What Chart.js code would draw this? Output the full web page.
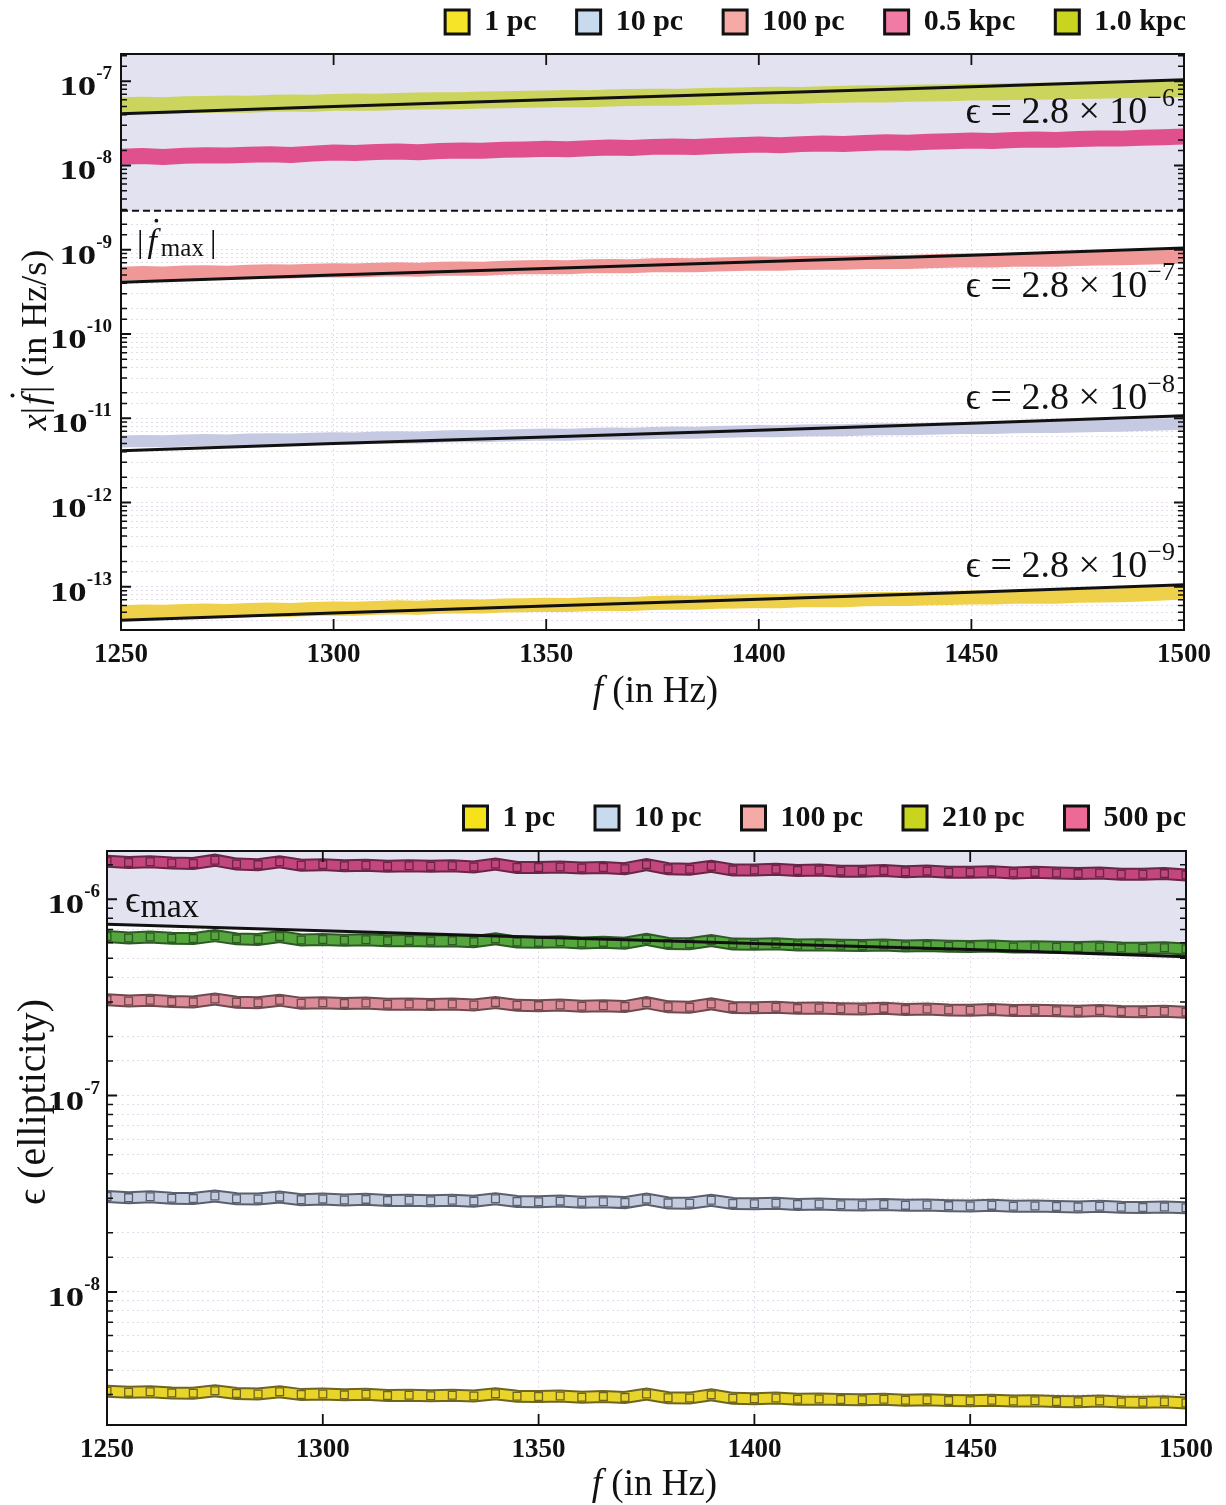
<!DOCTYPE html>
<html><head><meta charset="utf-8">
<script src="https://cdn.jsdelivr.net/npm/chart.js@4.4.0/dist/chart.umd.min.js"></script>
<style>
html,body{margin:0;padding:0;background:#fff;width:1226px;height:1505px;overflow:hidden;position:relative;}
#w1{position:absolute;left:0;top:-33px;width:1226px;height:778px;}
#w2{position:absolute;left:0;top:763px;width:1226px;height:742px;}
</style></head><body>
<div id="w1"><canvas id="c1"></canvas></div>
<div id="w2"><canvas id="c2"></canvas></div>
<script>
// ---------------- DATA ----------------
const freq = [1250,1255,1260,1265,1270,1275,1280,1285,1290,1295,1300,1305,1310,1315,1320,1325,1330,1335,1340,1345,1350,1355,1360,1365,1370,1375,1380,1385,1390,1395,1400,1405,1410,1415,1420,1425,1430,1435,1440,1445,1450,1455,1460,1465,1470,1475,1480,1485,1490,1495,1500];
const lineFreq = [1250,1300,1350,1400,1450,1500];
const xTickValues = [1250,1300,1350,1400,1450,1500];
const xTickLabels = ['1250','1300','1350','1400','1450','1500'];

// Top panel: x|fdot| (Hz/s)
const topLabels = ['1 pc','10 pc','100 pc','0.5 kpc','1.0 kpc'];
const top1pc = [5.00e-14,5.10e-14,5.04e-14,5.15e-14,5.22e-14,5.16e-14,5.30e-14,5.36e-14,5.32e-14,5.45e-14,5.52e-14,5.48e-14,5.62e-14,5.70e-14,5.65e-14,5.80e-14,5.86e-14,5.82e-14,5.98e-14,6.05e-14,6.12e-14,6.08e-14,6.22e-14,6.30e-14,6.26e-14,6.42e-14,6.50e-14,6.46e-14,6.62e-14,6.70e-14,6.80e-14,6.75e-14,6.90e-14,6.98e-14,6.94e-14,7.10e-14,7.18e-14,7.14e-14,7.30e-14,7.38e-14,7.48e-14,7.44e-14,7.60e-14,7.68e-14,7.64e-14,7.80e-14,7.90e-14,7.96e-14,8.12e-14,8.30e-14,8.55e-14];
const top10pc = [5.30e-12,5.36e-12,5.32e-12,5.45e-12,5.50e-12,5.44e-12,5.58e-12,5.65e-12,5.60e-12,5.72e-12,5.80e-12,5.76e-12,5.90e-12,5.96e-12,5.92e-12,6.08e-12,6.15e-12,6.10e-12,6.25e-12,6.32e-12,6.40e-12,6.36e-12,6.50e-12,6.58e-12,6.54e-12,6.70e-12,6.76e-12,6.72e-12,6.88e-12,6.95e-12,7.05e-12,7.00e-12,7.15e-12,7.22e-12,7.18e-12,7.35e-12,7.42e-12,7.38e-12,7.52e-12,7.60e-12,7.70e-12,7.66e-12,7.80e-12,7.88e-12,7.85e-12,8.00e-12,8.08e-12,8.15e-12,8.30e-12,8.42e-12,8.60e-12];
const top100pc = [5.20e-10,5.28e-10,5.22e-10,5.35e-10,5.40e-10,5.34e-10,5.48e-10,5.55e-10,5.50e-10,5.62e-10,5.70e-10,5.66e-10,5.78e-10,5.85e-10,5.80e-10,5.95e-10,6.00e-10,5.96e-10,6.10e-10,6.18e-10,6.25e-10,6.20e-10,6.35e-10,6.40e-10,6.36e-10,6.52e-10,6.58e-10,6.55e-10,6.68e-10,6.75e-10,6.85e-10,6.80e-10,6.95e-10,7.02e-10,6.98e-10,7.12e-10,7.20e-10,7.15e-10,7.30e-10,7.38e-10,7.48e-10,7.44e-10,7.58e-10,7.65e-10,7.62e-10,7.78e-10,7.85e-10,7.90e-10,8.05e-10,8.15e-10,8.30e-10];
const top05kpc = [1.27e-8,1.29e-8,1.26e-8,1.30e-8,1.32e-8,1.31e-8,1.34e-8,1.36e-8,1.33e-8,1.38e-8,1.42e-8,1.40e-8,1.44e-8,1.46e-8,1.43e-8,1.48e-8,1.50e-8,1.49e-8,1.53e-8,1.55e-8,1.58e-8,1.56e-8,1.60e-8,1.63e-8,1.61e-8,1.66e-8,1.68e-8,1.65e-8,1.70e-8,1.73e-8,1.77e-8,1.74e-8,1.79e-8,1.82e-8,1.80e-8,1.85e-8,1.88e-8,1.86e-8,1.91e-8,1.94e-8,1.97e-8,1.95e-8,2.00e-8,2.03e-8,2.01e-8,2.06e-8,2.09e-8,2.08e-8,2.13e-8,2.16e-8,2.20e-8];
const top1kpc = [5.10e-8,5.18e-8,5.12e-8,5.25e-8,5.30e-8,5.35e-8,5.32e-8,5.45e-8,5.50e-8,5.48e-8,5.60e-8,5.66e-8,5.62e-8,5.75e-8,5.80e-8,5.87e-8,5.85e-8,5.98e-8,6.02e-8,6.10e-8,6.14e-8,6.22e-8,6.18e-8,6.30e-8,6.38e-8,6.44e-8,6.42e-8,6.55e-8,6.62e-8,6.66e-8,6.74e-8,6.80e-8,6.78e-8,6.92e-8,7.00e-8,7.07e-8,7.02e-8,7.18e-8,7.25e-8,7.30e-8,7.41e-8,7.45e-8,7.52e-8,7.60e-8,7.66e-8,7.77e-8,7.80e-8,7.90e-8,7.98e-8,8.05e-8,8.15e-8];
const topModel1kpc = [4.1e-8,5.0e-8,6.0e-8,7.2e-8,8.6e-8,1.04e-7];
const topModel100pc = [4.1e-10,5.0e-10,6.0e-10,7.2e-10,8.6e-10,1.05e-9];
const topModel10pc = [4.1e-12,5.0e-12,6.0e-12,7.2e-12,8.7e-12,1.07e-11];
const topModel1pc = [4.0e-14,4.9e-14,5.9e-14,7.1e-14,8.6e-14,1.06e-13];
const fdotMaxFreq = [1250,1500];
const fdotMax = [2.9e-9,2.9e-9];
const topEpsText = ['ϵ = 2.8 × 10','ϵ = 2.8 × 10','ϵ = 2.8 × 10','ϵ = 2.8 × 10'];
const topEpsExp = ['−6','−7','−8','−9'];
const topDecades = [1e-7,1e-8,1e-9,1e-10,1e-11,1e-12,1e-13];
const topDecadeExp = ['-7','-8','-9','-10','-11','-12','-13'];

// Bottom panel: ellipticity
const botLabels = ['1 pc','10 pc','100 pc','210 pc','500 pc'];
const bot1pc = [3.12e-9,3.08e-9,3.10e-9,3.06e-9,3.05e-9,3.14e-9,3.04e-9,3.02e-9,3.10e-9,3.00e-9,3.02e-9,2.99e-9,3.01e-9,2.97e-9,2.98e-9,2.96e-9,2.98e-9,2.95e-9,3.03e-9,2.94e-9,2.93e-9,2.95e-9,2.91e-9,2.93e-9,2.90e-9,3.02e-9,2.89e-9,2.88e-9,2.99e-9,2.87e-9,2.86e-9,2.88e-9,2.84e-9,2.85e-9,2.83e-9,2.82e-9,2.84e-9,2.81e-9,2.82e-9,2.80e-9,2.79e-9,2.81e-9,2.78e-9,2.79e-9,2.77e-9,2.76e-9,2.78e-9,2.75e-9,2.74e-9,2.76e-9,2.72e-9];
const bot10pc = [3.06e-8,3.02e-8,3.05e-8,3.00e-8,2.99e-8,3.08e-8,2.98e-8,2.97e-8,3.04e-8,2.95e-8,2.97e-8,2.94e-8,2.96e-8,2.92e-8,2.93e-8,2.91e-8,2.93e-8,2.90e-8,2.98e-8,2.89e-8,2.88e-8,2.90e-8,2.86e-8,2.88e-8,2.85e-8,2.97e-8,2.84e-8,2.83e-8,2.93e-8,2.82e-8,2.81e-8,2.83e-8,2.79e-8,2.80e-8,2.78e-8,2.77e-8,2.79e-8,2.76e-8,2.77e-8,2.75e-8,2.74e-8,2.76e-8,2.73e-8,2.74e-8,2.72e-8,2.71e-8,2.73e-8,2.70e-8,2.69e-8,2.71e-8,2.68e-8];
const bot100pc = [3.08e-7,3.03e-7,3.06e-7,3.01e-7,3.00e-7,3.10e-7,2.99e-7,2.97e-7,3.06e-7,2.95e-7,2.97e-7,2.94e-7,2.96e-7,2.92e-7,2.93e-7,2.91e-7,2.93e-7,2.89e-7,2.98e-7,2.88e-7,2.87e-7,2.89e-7,2.85e-7,2.87e-7,2.84e-7,2.97e-7,2.83e-7,2.82e-7,2.93e-7,2.81e-7,2.80e-7,2.82e-7,2.78e-7,2.79e-7,2.77e-7,2.76e-7,2.78e-7,2.74e-7,2.76e-7,2.73e-7,2.72e-7,2.74e-7,2.71e-7,2.72e-7,2.70e-7,2.69e-7,2.71e-7,2.68e-7,2.67e-7,2.69e-7,2.66e-7];
const bot210pc = [6.45e-7,6.35e-7,6.42e-7,6.32e-7,6.30e-7,6.52e-7,6.28e-7,6.24e-7,6.45e-7,6.20e-7,6.24e-7,6.18e-7,6.22e-7,6.14e-7,6.16e-7,6.12e-7,6.15e-7,6.08e-7,6.28e-7,6.05e-7,6.03e-7,6.07e-7,5.99e-7,6.03e-7,5.97e-7,6.25e-7,5.95e-7,5.93e-7,6.16e-7,5.91e-7,5.89e-7,5.93e-7,5.85e-7,5.87e-7,5.83e-7,5.81e-7,5.85e-7,5.78e-7,5.81e-7,5.76e-7,5.74e-7,5.78e-7,5.71e-7,5.73e-7,5.69e-7,5.67e-7,5.71e-7,5.64e-7,5.62e-7,5.66e-7,5.58e-7];
const bot500pc = [1.56e-6,1.54e-6,1.55e-6,1.53e-6,1.52e-6,1.58e-6,1.51e-6,1.50e-6,1.55e-6,1.49e-6,1.50e-6,1.48e-6,1.49e-6,1.47e-6,1.48e-6,1.47e-6,1.48e-6,1.46e-6,1.51e-6,1.45e-6,1.45e-6,1.46e-6,1.44e-6,1.45e-6,1.43e-6,1.50e-6,1.43e-6,1.42e-6,1.47e-6,1.41e-6,1.41e-6,1.42e-6,1.40e-6,1.41e-6,1.39e-6,1.39e-6,1.40e-6,1.38e-6,1.39e-6,1.37e-6,1.37e-6,1.38e-6,1.36e-6,1.37e-6,1.36e-6,1.35e-6,1.36e-6,1.34e-6,1.34e-6,1.35e-6,1.33e-6];
const epsMax = [7.45e-7,6.9e-7,6.4e-7,5.95e-7,5.55e-7,5.1e-7];
const botDecades = [1e-6,1e-7,1e-8];
const botDecadeExp = ['-6','-7','-8'];

// ---------------- HELPERS ----------------
const SERIF = '"Liberation Serif","DejaVu Serif","Times New Roman",serif';
const F = (size, style) => `${style || 'normal'} ${size}px ${SERIF}`;
function isDecade(v){ const l = Math.log10(v); return Math.abs(l - Math.round(l)) < 1e-6; }
function pts(xs, ys){ return xs.map((x, i) => ({x: x, y: ys[i]})); }
function xLabel(v){ const i = xTickValues.indexOf(v); return i >= 0 ? xTickLabels[i] : ''; }

// parts: [text, font, dy, dotSize] or a number (extra horizontal space)
function rich(ctx, parts, x, y, align){
  let w = 0;
  parts.forEach(p => { if (typeof p === 'number') { w += p; return; } ctx.font = p[1]; w += ctx.measureText(p[0]).width; });
  let cx = align === 'right' ? x - w : (align === 'center' ? x - w / 2 : x);
  ctx.textAlign = 'left'; ctx.textBaseline = 'alphabetic';
  parts.forEach(p => {
    if (typeof p === 'number') { cx += p; return; }
    ctx.font = p[1];
    const tw = ctx.measureText(p[0]).width;
    ctx.fillText(p[0], cx, y + (p[2] || 0));
    if (p[3]) { // dot accent (time derivative)
      const s = p[3];
      ctx.beginPath(); ctx.arc(cx + tw * 0.95, y + (p[2] || 0) - s * 0.93, s * 0.055, 0, Math.PI * 2); ctx.fill();
    }
    cx += tw;
  });
}

function drawYLabels(chart, values, exps, gap){
  const {ctx, chartArea: a, scales: {y}} = chart;
  ctx.save(); ctx.fillStyle = '#111'; ctx.textAlign = 'right'; ctx.textBaseline = 'alphabetic';
  values.forEach((v, i) => {
    const p = y.getPixelForValue(v);
    const r = a.left - gap;
    ctx.font = F(19, 'bold');
    ctx.fillText(exps[i], r, p - 2);
    const sw = ctx.measureText(exps[i]).width;
    ctx.save(); ctx.translate(r - sw, p + 14); ctx.scale(1.36, 1);
    ctx.font = F(27, 'bold'); ctx.fillText('10', 0, 0);
    ctx.restore();
  });
  ctx.restore();
}

function frameAndTicks(chart){
  const {ctx, chartArea: a, scales: {x, y}} = chart;
  ctx.save();
  ctx.strokeStyle = '#111';
  ctx.lineWidth = 2;
  ctx.strokeRect(a.left, a.top, a.right - a.left, a.bottom - a.top);
  y.ticks.forEach(t => {
    const v = t.value; if (v <= y.min * 1.0001 || v >= y.max * 0.9999) return;
    const p = y.getPixelForValue(v); const major = isDecade(v);
    const len = major ? 10 : 6;
    ctx.lineWidth = major ? 2 : 1.5;
    ctx.beginPath();
    ctx.moveTo(a.left, p); ctx.lineTo(a.left + len, p);
    ctx.moveTo(a.right, p); ctx.lineTo(a.right - len, p);
    ctx.stroke();
  });
  ctx.lineWidth = 1.8;
  ctx.beginPath();
  x.ticks.forEach(t => {
    const v = t.value; if (v <= x.min || v >= x.max) return;
    const p = x.getPixelForValue(v);
    ctx.moveTo(p, a.bottom); ctx.lineTo(p, a.bottom - 11);
    ctx.moveTo(p, a.top); ctx.lineTo(p, a.top + 11);
  });
  ctx.stroke();
  ctx.restore();
}

function legendPad(extra){
  return { id: 'legendPad', beforeInit(chart){ const f = chart.legend.fit; chart.legend.fit = function(){ f.call(this); this.height += extra; }; } };
}

function legendOpts(){
  return {
    display: true, position: 'top', align: 'end',
    labels: {
      font: {family: SERIF, size: 30, weight: 'bold'}, color: '#111',
      boxWidth: 24, boxHeight: 24, padding: 40,
      generateLabels(chart){
        return chart.data.datasets.map((ds, i) => ds.legendFill ? {
          text: ds.label, fillStyle: ds.legendFill, strokeStyle: '#111', lineWidth: 3,
          hidden: false, datasetIndex: i, fontColor: '#111'
        } : null).filter(Boolean);
      }
    }
  };
}

function xScale(height, pad){
  return {
    type: 'linear', min: 1250, max: 1500,
    grid: {color: 'rgba(175,150,195,0.33)', lineWidth: 1, drawTicks: false},
    border: {display: false, dash: [2, 3]},
    ticks: {stepSize: 50, autoSkip: false, maxRotation: 0, padding: pad, color: '#111',
      font: {family: SERIF, size: 27, weight: 'bold'}, callback: v => xLabel(v)},
    afterFit(s){ s.height = height; }
  };
}
function yScale(min, max, width){
  return {
    type: 'logarithmic', min: min, max: max,
    grid: {color: 'rgba(175,150,195,0.33)', lineWidth: 1, drawTicks: false},
    border: {display: false, dash: [2, 3]},
    ticks: {display: false, autoSkip: false},
    afterFit(s){ s.width = width; }
  };
}
function dummyRight(width){
  return { type: 'linear', position: 'right', display: true,
    grid: {display: false, drawTicks: false}, border: {display: false}, ticks: {display: false},
    afterFit(s){ s.width = width; } };
}

const common = {
  responsive: true, maintainAspectRatio: false, animation: false, devicePixelRatio: 1,
  events: [], layout: {padding: 0}
};

// ---------------- TOP CHART ----------------
const topBandColors = ['#efd04a', '#c6c9e2', '#f09898', '#e0508c', '#cbd45c'];
const topBandWidths = [14, 12, 14, 16, 17];
const topLegendColors = ['#f6e428', '#c8daee', '#f5aaa6', '#f07ca6', '#c9d41e'];
const topVals = [top1pc, top10pc, top100pc, top05kpc, top1kpc];
const topModels = [topModel1pc, topModel10pc, topModel100pc, topModel1kpc];

const topDatasets = [];
topVals.forEach((vals, i) => topDatasets.push({
  label: topLabels[i], data: pts(freq, vals), borderColor: topBandColors[i], borderWidth: topBandWidths[i],
  pointRadius: 0, tension: 0, borderJoinStyle: 'round', legendFill: topLegendColors[i], order: 3, fill: false
}));
topModels.forEach(vals => topDatasets.push({
  label: 'model', data: pts(lineFreq, vals), borderColor: '#111', borderWidth: 3,
  pointRadius: 0, tension: 0, order: 1, fill: false
}));
topDatasets.push({
  label: '|fdot max|', data: pts(fdotMaxFreq, fdotMax), borderColor: '#111', borderWidth: 2,
  borderDash: [7, 4], pointRadius: 0, order: 1, fill: 'end', backgroundColor: 'rgb(226,226,241)'
});

const topDeco = {
  id: 'topDeco',
  afterDatasetsDraw(chart){ frameAndTicks(chart); },
  afterDraw(chart){
    const {ctx, chartArea: a, scales: {x, y}} = chart;
    drawYLabels(chart, topDecades, topDecadeExp, 9);
    ctx.save(); ctx.fillStyle = '#111';
    const anchors = [3.2e-8, 2.72e-10, 1.3e-11, 1.3e-13];
    const xr = x.getPixelForValue(1500) - 9;
    topEpsText.forEach((t, i) => rich(ctx, [[t, F(38)], [topEpsExp[i], F(26), -17]], xr, y.getPixelForValue(anchors[i]), 'right'));
    rich(ctx, [['|', F(32)], 4, ['f', F(34, 'italic'), 0, 34], 4, ['max', F(25), 4], 6, ['|', F(32)]], a.left + 16, y.getPixelForValue(9.3e-10), 'left');
    rich(ctx, [['f', F(37, 'italic')], [' (in Hz)', F(37)]], (a.left + a.right) / 2 + 3, a.bottom + 72, 'center');
    ctx.translate(46, (a.top + a.bottom) / 2 - 2); ctx.rotate(-Math.PI / 2);
    rich(ctx, [['x', F(36, 'italic')], ['|', F(36)], 2, ['f', F(36, 'italic'), 0, 36], 2, ['|', F(36)], [' (in Hz/s)', F(36)]], 0, 0, 'center');
    ctx.restore();
  }
};

new Chart(document.getElementById('c1'), {
  type: 'line',
  data: {datasets: topDatasets},
  options: Object.assign({}, common, {
    scales: {x: xScale(115, 9), y: yScale(3.07e-14, 2.1e-7, 121), yR: dummyRight(42)},
    plugins: {legend: legendOpts(), tooltip: {enabled: false}, filler: {propagate: false, drawTime: 'beforeDatasetsDraw'}}
  }),
  plugins: [legendPad(7), topDeco]
});

// ---------------- BOTTOM CHART ----------------
const botCore = ['#e9d42a', '#c4cce0', '#dc8c98', '#56a63e', '#c4467e'];
const botDark = ['#6e6420', '#5a5f6e', '#6e4a4e', '#2d5a24', '#6a2444'];
const botLegendColors = ['#f6e21a', '#c8daee', '#f5aaa6', '#c9d41e', '#ee6a96'];
const botVals = [bot1pc, bot10pc, bot100pc, bot210pc, bot500pc];

const botDatasets = [];
botVals.forEach((vals, i) => botDatasets.push({
  label: botLabels[i], data: pts(freq, vals), borderColor: botCore[i], borderWidth: 9,
  pointStyle: 'rect', pointRadius: 5.5, pointBackgroundColor: botCore[i], pointBorderColor: botDark[i], pointBorderWidth: 1.3,
  tension: 0, legendFill: botLegendColors[i], order: 2, fill: false
}));
botVals.forEach((vals, i) => botDatasets.push({
  label: botLabels[i] + ' edge', data: pts(freq, vals), borderColor: botDark[i], borderWidth: 13,
  pointRadius: 0, tension: 0, order: 3, fill: false
}));
botDatasets.push({
  label: 'eps max', data: pts(lineFreq, epsMax), borderColor: '#111', borderWidth: 3,
  pointRadius: 0, tension: 0, order: 1, fill: 'end', backgroundColor: 'rgb(226,226,241)'
});

const botDeco = {
  id: 'botDeco',
  afterDatasetsDraw(chart){ frameAndTicks(chart); },
  afterDraw(chart){
    const {ctx, chartArea: a, scales: {x, y}} = chart;
    drawYLabels(chart, botDecades, botDecadeExp, 7);
    ctx.save(); ctx.fillStyle = '#111';
    rich(ctx, [['ϵ', F(38)], ['max', F(34), 5]], a.left + 18, y.getPixelForValue(8.6e-7), 'left');
    rich(ctx, [['f', F(37, 'italic')], [' (in Hz)', F(37)]], (a.left + a.right) / 2 + 8, a.bottom + 70, 'center');
    ctx.translate(45, (a.top + a.bottom) / 2 - 36); ctx.rotate(-Math.PI / 2);
    rich(ctx, [['ϵ', F(40)], [' (ellipticity)', F(40)]], 0, 0, 'center');
    ctx.restore();
  }
};

new Chart(document.getElementById('c2'), {
  type: 'line',
  data: {datasets: botDatasets},
  options: Object.assign({}, common, {
    scales: {x: xScale(80, 9), y: yScale(2.1e-9, 1.76e-6, 107), yR: dummyRight(40)},
    plugins: {legend: legendOpts(), tooltip: {enabled: false}, filler: {propagate: false, drawTime: 'beforeDatasetsDraw'}}
  }),
  plugins: [legendPad(8), botDeco]
});
</script>
</body></html>
